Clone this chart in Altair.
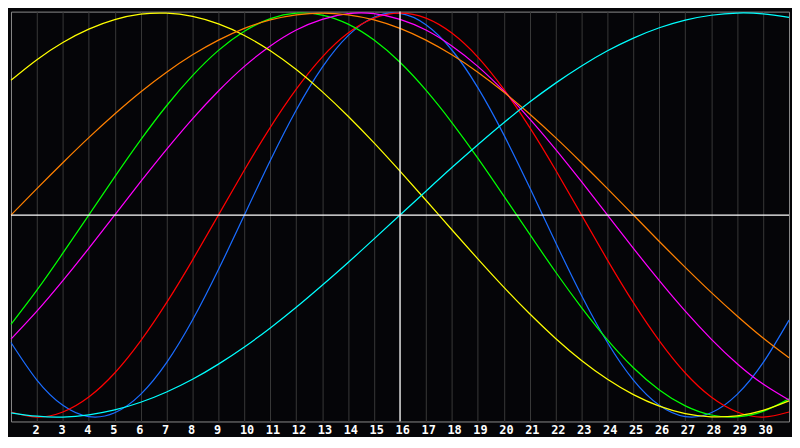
import altair as alt
import pandas as pd

# Day numbers along the bottom (1..31 covers the full width)
days = list(range(1, 32))
tick_days = list(range(2, 31))
today = 16

series_names = ["Physical", "Emotional", "Intellectual", "Intuitive",
                "Aesthetic", "Awareness", "Spiritual"]
series_colors = ["#1a6cff", "#ff0000", "#00ff00", "#ff00ff",
                 "#ffff00", "#ff8000", "#00ffff"]

# Values (percent), one per day 1..31
physical = [-63.1, -81.7, -94.2, -99.8, -97.9, -88.8, -73.1, -52.0, -27.0, 0, 27.0,
            52.0, 73.1, 88.8, 97.9, 99.8, 94.2, 81.7, 63.1, 39.8, 13.6, -13.6,
            -39.8, -63.1, -81.7, -94.2, -99.8, -97.9, -88.8, -73.1, -52.0]
emotional = [-97.5, -100, -97.5, -90.1, -78.2, -62.3, -43.4, -22.3, 0, 22.3, 43.4,
             62.3, 78.2, 90.1, 97.5, 100, 97.5, 90.1, 78.2, 62.3, 43.4, 22.3,
             0, -22.3, -43.4, -62.3, -78.2, -90.1, -97.5, -100, -97.5]
intellectual = [-54.1, -37.2, -18.9, 0, 18.9, 37.2, 54.1, 69.0, 81.5, 91.0, 97.2,
                99.9, 99.0, 94.5, 86.6, 75.6, 61.8, 45.8, 28.2, 9.5, -9.5, -28.2,
                -45.8, -61.8, -75.6, -86.6, -94.5, -99.0, -99.9, -97.2, -91.0]
intuitive = [-61.4, -47.6, -32.5, -16.5, 0, 16.5, 32.5, 47.6, 61.4, 73.6, 83.7,
             91.6, 96.9, 99.7, 99.7, 96.9, 91.6, 83.7, 73.6, 61.4, 47.6, 32.5,
             16.5, 0, -16.5, -32.5, -47.6, -61.4, -73.6, -83.7, -91.6]
aesthetic = [66.7, 76.9, 85.4, 92.0, 96.7, 99.4, 99.9, 98.3, 94.6, 88.9, 81.3,
             72.0, 61.1, 48.9, 35.7, 21.7, 7.3, -7.3, -21.7, -35.7, -48.9, -61.1,
             -72.0, -81.3, -88.9, -94.6, -98.3, -99.9, -99.4, -96.7, -92.0]
awareness = [0, 13.1, 25.9, 38.3, 50.0, 60.9, 70.7, 79.3, 86.6, 92.4, 96.6,
             99.1, 100, 99.1, 96.6, 92.4, 86.6, 79.3, 70.7, 60.9, 50.0, 38.3,
             25.9, 13.1, 0, -13.1, -25.9, -38.3, -50.0, -60.9, -70.7]
spiritual = [-97.9, -99.6, -100.0, -98.9, -96.5, -92.7, -87.6, -81.3, -73.8, -65.3, -55.9,
             -45.7, -34.8, -23.5, -11.8, 0, 11.8, 23.5, 34.8, 45.7, 55.9, 65.3,
             73.8, 81.3, 87.6, 92.7, 96.5, 98.9, 100.0, 99.6, 97.9]

all_values = [physical, emotional, intellectual, intuitive, aesthetic, awareness, spiritual]

rows = []
for name, vals in zip(series_names, all_values):
    for d, v in zip(days, vals):
        rows.append({"day": d, "value": v, "series": name})
df = pd.DataFrame(rows)

x_scale = alt.Scale(domain=[1, 31], nice=False, zero=False)
y_scale = alt.Scale(domain=[-102.2, 100.7], nice=False, zero=False)

x_axis = alt.Axis(
    values=tick_days, grid=True, gridColor="#383838", gridWidth=1,
    domain=False, ticks=False, title=None,
    labelColor="#ffffff", labelFont="DejaVu Sans Mono", labelFontWeight="bold",
    labelFontSize=12, labelAlign="left", labelOffset=-5, labelBaseline="top",
    labelPadding=3, labelFlush=False, format="d",
)

lines = alt.Chart(df).mark_line(strokeWidth=1.25, interpolate="natural").encode(
    x=alt.X("day:Q", scale=x_scale, axis=x_axis),
    y=alt.Y("value:Q", scale=y_scale, axis=None),
    color=alt.Color("series:N", scale=alt.Scale(domain=series_names, range=series_colors),
                    legend=None),
    detail="series:N",
)

hline = alt.Chart(pd.DataFrame({"value": [0]})).mark_rule(color="#ffffff", strokeWidth=1.25).encode(
    y=alt.Y("value:Q", scale=y_scale, axis=None)
)
vline = alt.Chart(pd.DataFrame({"day": [today]})).mark_rule(color="#ffffff", strokeWidth=1.25).encode(
    x=alt.X("day:Q", scale=x_scale, axis=x_axis)
)

chart = alt.layer(lines, hline, vline).properties(
    width=784, height=413, padding=0, background="#050508"
).configure_view(
    stroke="#8a8a8a", strokeWidth=1, fill="#050508"
)

chart.save("out.html", embed_options={"renderer": "svg", "actions": False})
